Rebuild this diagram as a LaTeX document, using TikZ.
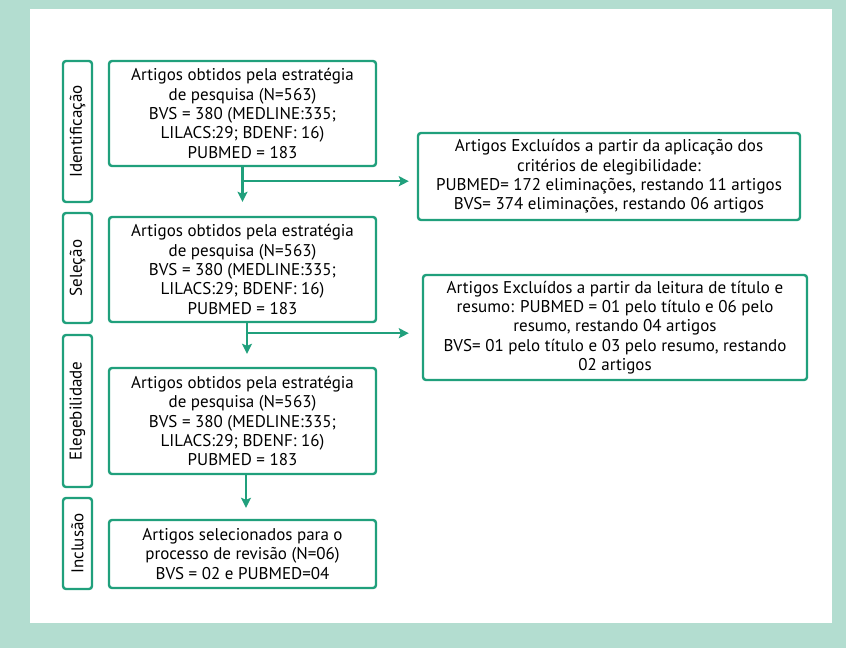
\documentclass[tikz,border=0pt]{standalone}
\usepackage{fontspec}
\setmainfont{PT Sans}
\usetikzlibrary{arrows.meta, positioning, calc}
\definecolor{prisma}{RGB}{32,160,124}
\definecolor{mint}{RGB}{179,221,208}

\begin{document}
\begin{tikzpicture}[x=1pt, y=-1pt,
    % Boxes of the flow chart
    sbox/.style={draw=prisma, line width=2.4pt, rounded corners=3pt, align=center, inner sep=2pt, font=\fontsize{17}{19.3}\selectfont},
    stage/.style={sbox, rotate=90, minimum height=29pt},
    % Arrows between the boxes
    flow/.style={draw=prisma, line width=2.4pt, -{Stealth[length=10pt, width=10pt, inset=2pt]}}]

% Frame
\fill[mint] (0,0) rectangle (846,648);
\fill[white] (30,9) rectangle (832,623);

% Stages on the left
\node[stage, minimum width=141pt] (lab1) at (77.5,131.5) {Identificação};
\node[stage, minimum width=110pt] (lab2) at (77.5,268) {Seleção};
\node[stage, minimum width=152pt] (lab3) at (77.5,411) {Elegebilidade};
\node[stage, minimum width=91pt] (lab4) at (77.5,543.5) {Inclusão};

% Main column
\node[sbox, minimum width=267pt, minimum height=105pt] (box1) at (242.5,113.5) {Artigos obtidos pela estratégia\\de pesquisa (N=563)\\BVS = 380 (MEDLINE:335;\\LILACS:29; BDENF: 16)\\PUBMED = 183};
\node[sbox, minimum width=267pt, minimum height=105pt] (box2) at (242.5,269.5) {Artigos obtidos pela estratégia\\de pesquisa (N=563)\\BVS = 380 (MEDLINE:335;\\LILACS:29; BDENF: 16)\\PUBMED = 183};
\node[sbox, minimum width=267pt, minimum height=106pt] (box3) at (242.5,421) {Artigos obtidos pela estratégia\\de pesquisa (N=563)\\BVS = 380 (MEDLINE:335;\\LILACS:29; BDENF: 16)\\PUBMED = 183};
\node[sbox, minimum width=267pt, minimum height=68pt] (box4) at (242.5,554) {Artigos selecionados para o\\processo de revisão (N=06)\\BVS = 02 e PUBMED=04};

% Excluded
\node[sbox, minimum width=382pt, minimum height=87pt] (out1) at (609,176.5) {Artigos Excluídos a partir da aplicação dos\\critérios de elegibilidade:\\PUBMED= 172 eliminações, restando 11 artigos\\BVS= 374 eliminações, restando 06 artigos};
\node[sbox, minimum width=384pt, minimum height=105pt] (out2) at (615,327.5) {Artigos Excluídos a partir da leitura de título e\\resumo: PUBMED = 01 pelo título e 06 pelo\\resumo, restando 04 artigos\\BVS= 01 pelo título e 03 pelo resumo, restando\\02 artigos};

% Connectors
\coordinate (br1) at ($(box1.south)+(0,14)$);
\coordinate (br2) at ($(box2.south)+(4.5,10)$);
\draw[flow, shorten >=14pt] (box1.south) -- (box1.south |- box2.north);
\draw[flow, shorten >=8pt] (br1) -- (br1 -| out1.west);
\draw[flow, shorten >=13pt] ([xshift=4.5pt]box2.south) -- ([xshift=4.5pt]box2.south |- box3.north);
\draw[flow, shorten >=13pt] (br2) -- (br2 -| out2.west);
\draw[flow, shorten >=11pt] ([xshift=3.5pt]box3.south) -- ([xshift=3.5pt]box3.south |- box4.north);

\end{tikzpicture}
\end{document}
